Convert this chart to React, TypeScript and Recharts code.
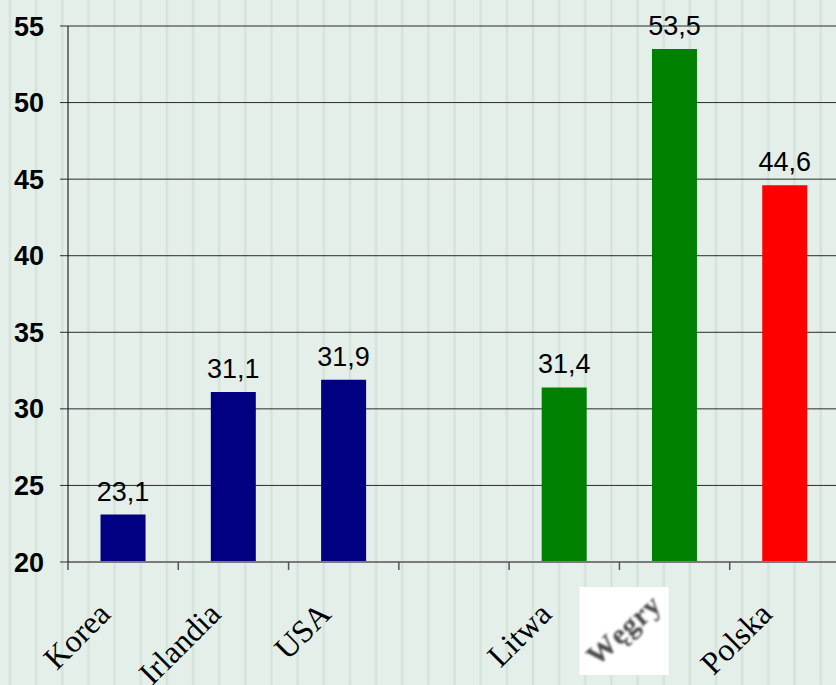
import { BarChart, Bar, XAxis, YAxis, CartesianGrid, Cell, LabelList } from "recharts";

// categories and values (empty slot separates the groups)
const COUNTRIES = ["Korea", "Irlandia", "USA", "", "Litwa", "Węgry", "Polska"];
const VALUES: (number | null)[] = [23.1, 31.1, 31.9, null, 31.4, 53.5, 44.6];
const Y_TICKS = [20, 25, 30, 35, 40, 45, 50, 55];

const BAR_COLORS = ["#000080", "#000080", "#000080", "#000080", "#008000", "#008000", "#FF0000"];

const CHART_W = 840;
const CHART_H = 685;
const Y_AXIS_W = 68;
const BAND = (CHART_W - Y_AXIS_W) / COUNTRIES.length;

const data = COUNTRIES.map((name, i) => ({ name, value: VALUES[i] }));

const formatValue = (v: any) => (v == null ? "" : Number(v).toFixed(1).replace(".", ","));

function CategoryTick(props: any) {
  const { x, y, payload } = props;
  const half = BAND / 2;
  const label = payload.value as string;
  return (
    <g transform={`translate(${x},${y})`}>
      <line x1={-half} x2={-half} y1={0} y2={8} stroke="#555" strokeWidth={1.5} />
      {label === "Węgry" ? (
        <g>
          <defs>
            <filter id="scanBlur" x="-20%" y="-20%" width="140%" height="140%">
              <feGaussianBlur stdDeviation={1} />
            </filter>
          </defs>
          <rect x={-95} y={25} width={89} height={88} fill="#ffffff" />
          <text
            x={-51}
            y={78}
            textAnchor="middle"
            transform="rotate(-42 -51 68)"
            fontFamily="'Liberation Serif', serif"
            fontWeight="bold"
            fontSize={30}
            letterSpacing={0.5}
            fill="#4a4a4a"
            filter="url(#scanBlur)"
          >
            {label}
          </text>
        </g>
      ) : (
        <text
          x={-11}
          y={54}
          textAnchor="end"
          transform="rotate(-45 -11 54)"
          fontFamily="'Liberation Serif', serif"
          fontSize={32}
          fill="#000"
        >
          {label}
        </text>
      )}
    </g>
  );
}

export default function App() {
  return (
    <div
      style={{
        position: "fixed",
        left: 0,
        top: 0,
        width: 836,
        height: 685,
        overflow: "hidden",
        backgroundColor: "#e5efea",
        backgroundImage:
          "repeating-linear-gradient(90deg, #e5efea 0px, #e5efea 8px, #d4e3db 9.5px, #d4e3db 10.5px, #e5efea 12px, #e5efea 26.15px)",
      }}
    >
      <BarChart
        width={CHART_W}
        height={CHART_H}
        data={data}
        margin={{ top: 26, right: 0, left: 0, bottom: 0 }}
        barCategoryGap="29.5%"
      >
        <CartesianGrid horizontal vertical={false} stroke="#2a2a2a" strokeWidth={1} />
        <XAxis
          dataKey="name"
          interval={0}
          height={123}
          tickSize={0}
          tickMargin={0}
          tickLine={false}
          axisLine={{ stroke: "#7a7a7a", strokeWidth: 2 }}
          tick={<CategoryTick />}
        />
        <YAxis
          width={Y_AXIS_W}
          domain={[20, 55]}
          ticks={Y_TICKS}
          interval={0}
          tickSize={8}
          tickMargin={16}
          axisLine={{ stroke: "#000" }}
          tickLine={{ stroke: "#2a2a2a" }}
          tick={{ fill: "#000", fontSize: 27, fontWeight: "bold", fontFamily: "'Liberation Sans', Arial, sans-serif" }}
        />
        <Bar dataKey="value" isAnimationActive={false}>
          {data.map((_, i) => (
            <Cell key={i} fill={BAR_COLORS[i]} />
          ))}
          <LabelList
            dataKey="value"
            position="top"
            offset={14}
            formatter={formatValue}
            fill="#000"
            fontSize={27}
            fontFamily="'Liberation Sans', Arial, sans-serif"
          />
        </Bar>
      </BarChart>
    </div>
  );
}
